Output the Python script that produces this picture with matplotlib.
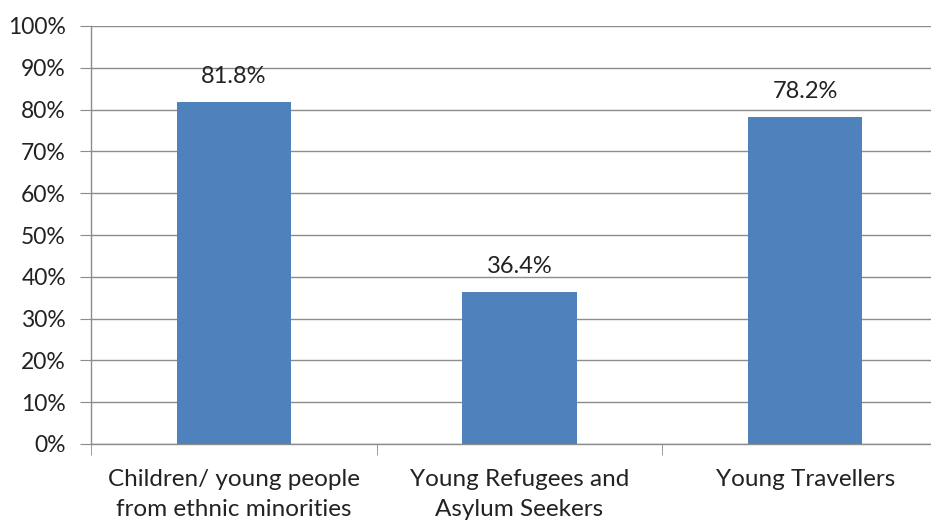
import matplotlib
matplotlib.use("Agg")
import matplotlib.pyplot as plt

categories = ["Children/ young people\nfrom ethnic minorities",
              "Young Refugees and\nAsylum Seekers",
              "Young Travellers"]
values = [81.8, 36.4, 78.2]
value_labels = ["81.8%", "36.4%", "78.2%"]
yticks = [0, 10, 20, 30, 40, 50, 60, 70, 80, 90, 100]
ytick_labels = [f"{v}%" for v in yticks]

plt.rcParams['font.family'] = ['Lato', 'DejaVu Sans']

W, H = 931, 523
fig = plt.figure(figsize=(W / 100, H / 100), dpi=100)
left, right, top, bottom = 91, 948, 26, 444
ax = fig.add_axes([left / W, 1 - bottom / H, (right - left) / W, (bottom - top) / H])

x = list(range(len(categories)))
ax.bar(x, values, width=0.4, color="#4F81BD", zorder=3)
for xi, v, lab in zip(x, values, value_labels):
    ax.annotate(lab, (xi, v), xytext=(0, 11), textcoords="offset points",
                ha="center", va="bottom", fontsize=17, color="#222222")

ax.set_xlim(-0.5, len(categories) - 0.5)
ax.set_ylim(0, 100)
ax.set_yticks(yticks)
ax.set_yticklabels(ytick_labels, fontsize=16.5, color="#222222")
ax.yaxis.grid(True, color="#8c8c8c", linewidth=1, zorder=0)
ax.tick_params(axis="y", length=8, color="#8c8c8c", pad=10)

ax.set_xticks(x)
ax.set_xticklabels(categories, fontsize=17.5, color="#222222", linespacing=1.55)
ax.tick_params(axis="x", length=0, pad=18)
ax.set_xticks([-0.5, 0.5, 1.5, 2.5], minor=True)
ax.tick_params(axis="x", which="minor", length=8, color="#8c8c8c")

for s in ["top", "right"]:
    ax.spines[s].set_visible(False)
for s in ["left", "bottom"]:
    ax.spines[s].set_color("#8c8c8c")
    ax.spines[s].set_linewidth(1)

fig.savefig("out.png", dpi=100)
